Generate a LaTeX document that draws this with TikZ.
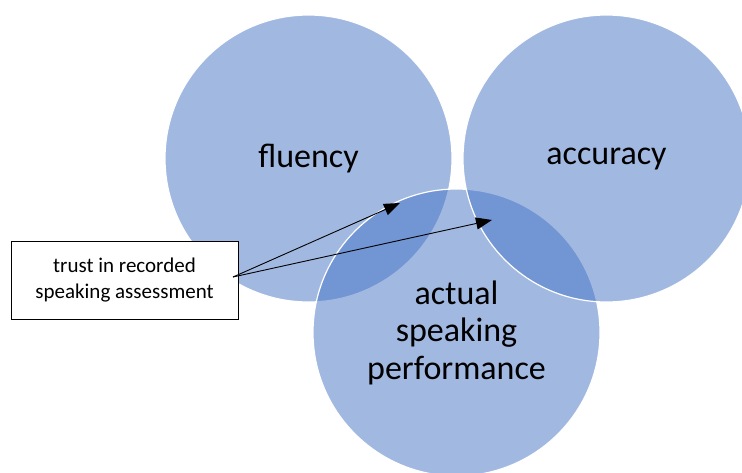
\documentclass[tikz,border=0pt]{standalone}
\usepackage{fontspec}
\setmainfont{Carlito}
\usetikzlibrary{arrows.meta}
\definecolor{vennblue}{RGB}{68,114,196}

\tikzset{
  venn/.style={circle, minimum size=287pt, inner sep=0pt, fill=vennblue, fill opacity=0.5, text opacity=1, draw=white, line width=1.2pt, align=center, font=\fontsize{34}{37.5}\selectfont},
  notebox/.style={draw, line width=0.9pt, fill=white, minimum width=227pt, minimum height=78pt, align=center, font=\fontsize{21}{25.6}\selectfont}
}

\begin{document}
\begin{tikzpicture}[x=1pt,y=-1pt]
\useasboundingbox (0,0) rectangle (742,472);

\node[venn] (fluency) at (308.5,158.5) {fluency};
\node[venn] (actual) at (456.5,332.5) {actual\\speaking\\performance};
\node[venn] (accuracy) at (606.5,158.5) {accuracy};

\node[notebox] (trust) at (124.5,280) {trust in recorded\\speaking assessment};

\coordinate (src) at (233,277);
\coordinate (fluact) at (400,203);
\coordinate (actacc) at (492,220);

\draw [line width=0.9pt, >={Triangle[length=16pt,width=12pt]},->] (src) -- (fluact);
\draw [line width=0.9pt, >={Triangle[length=16pt,width=12pt]},->] (src) -- (actacc);

\end{tikzpicture}
\end{document}
